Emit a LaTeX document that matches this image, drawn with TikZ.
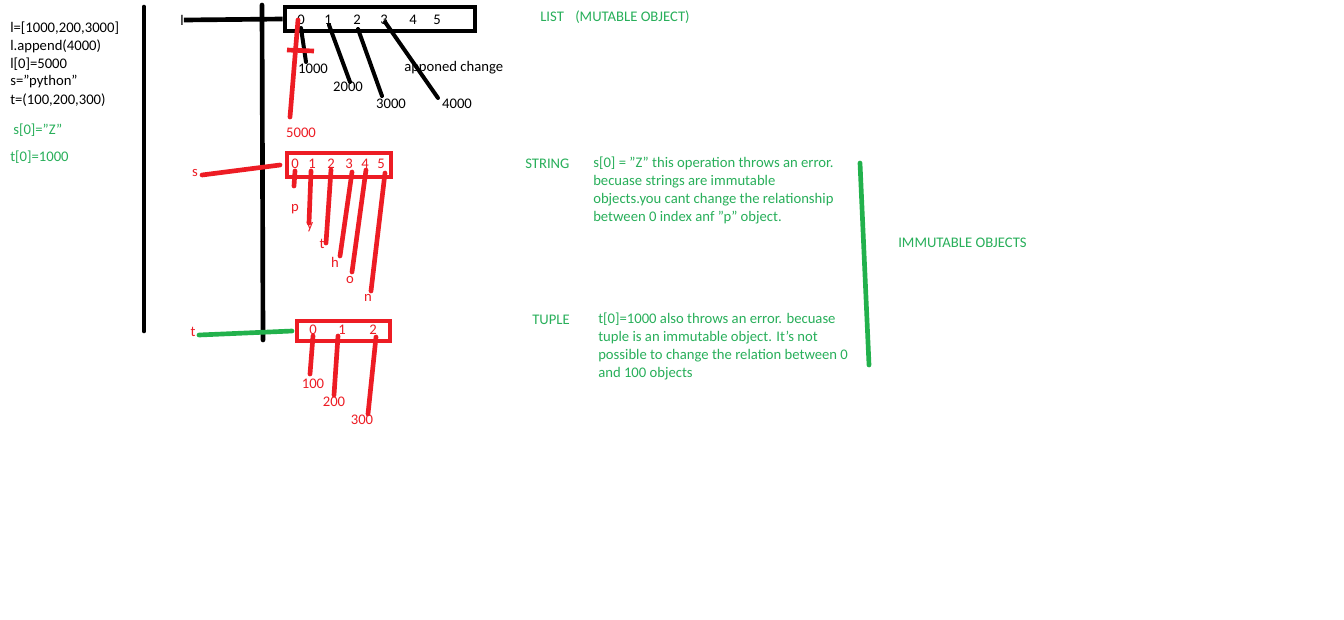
\documentclass[tikz,border=0pt]{standalone}
\usepackage{fontspec}
\setmainfont{Carlito}
\definecolor{pred}{RGB}{237,28,36}
\definecolor{pgreen}{RGB}{34,177,76}
\definecolor{tgreen}{RGB}{40,175,90}
\begin{document}
\begin{tikzpicture}[x=0.75pt,y=-0.75pt,
  font=\fontsize{11}{13}\selectfont,
  txt/.style={anchor=west,inner sep=0pt},
  lbl/.style={inner sep=0pt},
  gtxt/.style={anchor=west,inner sep=0pt,text=tgreen},
  para/.style={anchor=north west,inner sep=0pt,text=tgreen,align=left,font=\fontsize{11}{13.5}\selectfont},
  bk/.style={line width=3.5pt,black,line cap=round},
  thin/.style={line width=3pt,black,line cap=round},
  rd/.style={line width=3.5pt,pred,line cap=round},
  gn/.style={line width=3.5pt,pgreen,line cap=round},
  boxk/.style={draw=black,line width=3.5pt,inner sep=0pt},
  boxr/.style={draw=pred,line width=3.5pt,inner sep=0pt}]
\useasboundingbox[fill=white] (0,0) rectangle (1344,619);

% code on the left
\node[txt] (c1) at (10,28) {l=[1000,200,3000]};
\node[txt] (c2) at (10,46) {l.append(4000)};
\node[txt] (c3) at (10,64) {l[0]=5000};
\node[txt] (c4) at (10,82) {s="python"};
\node[txt] (c5) at (10,100) {t=(100,200,300)};
\node[gtxt] (c6) at (13,130) {s[0]="Z"};
\node[gtxt] (c7) at (10,157) {t[0]=1000};

% frame lines
\coordinate (v1a) at (144,7); \coordinate (v1b) at (144,331);
\coordinate (v2a) at (262,5); \coordinate (v2b) at (263,340);
\draw[bk] (v1a) -- (v1b);
\draw[bk] (v2a) -- (v2b);

% list
\node[boxk,minimum width=142.5pt,minimum height=18pt] (lbox) at (380,19) {};
\node[lbl] (lvar) at (182,20) {l};
\draw[bk,line cap=butt] (lvar.east) -- (lbox.west);
\node[lbl] (l0) at (301,20) {0};
\node[lbl] (l1) at (328,20) {1};
\node[lbl] (l2) at (357,20) {2};
\node[lbl] (l3) at (384,20) {3};
\node[lbl] (l4) at (413,20) {4};
\node[lbl] (l5) at (437,20) {5};
\node[lbl] (v1000) at (313,69) {1000};
\node[lbl] (v2000) at (348,87) {2000};
\node[lbl] (v3000) at (391,104) {3000};
\node[lbl] (v4000) at (457,104) {4000};
\node[txt] (app) at (404,68) {apponed change};
\node[lbl,text=pred] (v5000) at (301,133) {5000};
\coordinate (a0) at (301,28); \coordinate (b0) at (306,62);
\coordinate (a1) at (329,25); \coordinate (b1) at (350,82);
\coordinate (a2) at (358,29); \coordinate (b2) at (382,96);
\coordinate (a3) at (385,22); \coordinate (b3) at (438,98);
\draw[thin] (a0) -- (b0);
\draw[thin] (a1) -- (b1);
\draw[thin] (a2) -- (b2);
\draw[thin] (a3) -- (b3);
\coordinate (r0) at (298,20); \coordinate (r1) at (290,117);
\draw[rd] (r0) -- (r1);
\coordinate (x0) at (287,50); \coordinate (x1) at (314,51);
\draw[rd,line cap=butt] (x0) -- (x1);

% string
\node[boxr,minimum width=78pt,minimum height=18pt] (sbox) at (339,165) {};
\node[lbl,text=pred] (svar) at (195,173) {s};
\coordinate (sv0) at (202,175); \coordinate (sv1) at (280,165);
\draw[rd] (sv0) -- (sv1);
\node[lbl,text=pred] (s0) at (295,164) {0};
\node[lbl,text=pred] (s1) at (312,164) {1};
\node[lbl,text=pred] (s2) at (331,164) {2};
\node[lbl,text=pred] (s3) at (349,164) {3};
\node[lbl,text=pred] (s4) at (365,164) {4};
\node[lbl,text=pred] (s5) at (381,164) {5};
\node[lbl,text=pred] (cp) at (295,209) {p};
\node[lbl,text=pred] (cy) at (310,227) {y};
\node[lbl,text=pred] (ct) at (322,244) {t};
\node[lbl,text=pred] (ch) at (335,262) {h};
\node[lbl,text=pred] (co) at (350,280) {o};
\node[lbl,text=pred] (cn) at (368,298) {n};
\coordinate (p0) at (295,171); \coordinate (q0) at (294,186);
\coordinate (p1) at (311,171); \coordinate (q1) at (309,223);
\coordinate (p2) at (331,170); \coordinate (q2) at (326,243);
\coordinate (p3) at (352,172); \coordinate (q3) at (340,256);
\coordinate (p4) at (366,170); \coordinate (q4) at (352,272);
\coordinate (p5) at (385,173); \coordinate (q5) at (371,291);
\draw[rd] (p0) -- (q0);
\draw[rd] (p1) -- (q1);
\draw[rd] (p2) -- (q2);
\draw[rd] (p3) -- (q3);
\draw[rd] (p4) -- (q4);
\draw[rd] (p5) -- (q5);

% tuple
\node[boxr,minimum width=69.75pt,minimum height=15pt] (tbox) at (343.5,331) {};
\node[lbl,text=pred] (tvar) at (193,332) {t};
\coordinate (tv0) at (199,335); \coordinate (tv1) at (292,331);
\draw[gn] (tv0) -- (tv1);
\node[lbl,text=pred] (t0) at (313,330) {0};
\node[lbl,text=pred] (t1) at (342,330) {1};
\node[lbl,text=pred] (t2) at (373,330) {2};
\node[lbl,text=pred] (w100) at (313,384) {100};
\node[lbl,text=pred] (w200) at (334,402) {200};
\node[lbl,text=pred] (w300) at (362,420) {300};
\coordinate (m0) at (313,336); \coordinate (n0) at (310,374);
\coordinate (m1) at (338,336); \coordinate (n1) at (334,395);
\coordinate (m2) at (376,337); \coordinate (n2) at (368,414);
\draw[rd] (m0) -- (n0);
\draw[rd] (m1) -- (n1);
\draw[rd] (m2) -- (n2);

% right side labels
\node[gtxt] (list) at (540,17) {LIST};
\node[gtxt] (mut) at (575,17) {(MUTABLE OBJECT)};
\node[gtxt] (str) at (525,164) {STRING};
\node[para] (strtxt) at (593,157) {s[0] = "Z" this operation throws an error.\\becuase strings are immutable\\objects.you cant change the relationship\\between 0 index anf "p" object.};
\node[gtxt] (tup) at (532,320) {TUPLE};
\node[para] (tuptxt) at (598,313) {t[0]=1000 also throws an error. becuase\\tuple is an immutable object. It's not\\possible to change the relation between 0\\and 100 objects};
\node[gtxt] (imm) at (898,243) {IMMUTABLE OBJECTS};
\coordinate (g0) at (860,163); \coordinate (g1) at (869,365);
\draw[gn] (g0) -- (g1);
\end{tikzpicture}
\end{document}
